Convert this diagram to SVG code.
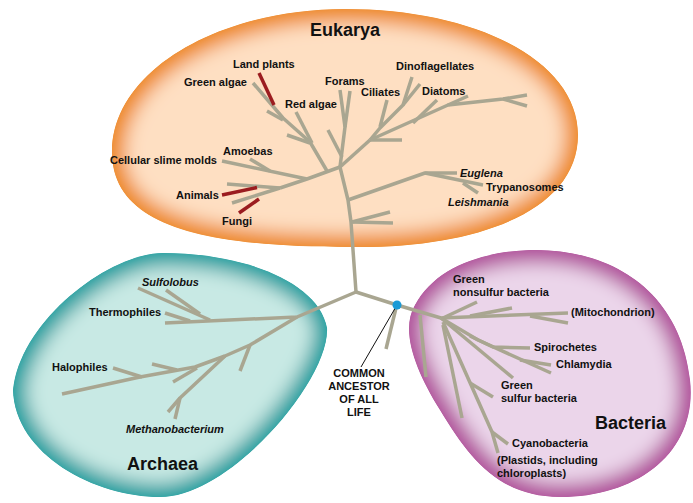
<svg xmlns="http://www.w3.org/2000/svg" width="693" height="503" viewBox="0 0 693 503">
<defs>
<path id="pE" d="M345,9 C475,9 578,60 578,135 C578,210 480,247 360,247 C200,248 112,225 112,152 C112,70 220,9 345,9 Z"/>
<path id="pA" d="M163,253 C240,253 318,280 327,328 C330,380 230,497 160,497 C95,497 15,455 13,390 C20,320 110,253 163,253 Z"/>
<path id="pB" d="M530,250 C610,248 680,290 690,380 C698,450 640,497 560,497 C500,497 470,460 440,410 C415,370 400,330 415,305 C435,268 480,252 530,250 Z"/>
<clipPath id="cE"><use href="#pE"/></clipPath>
<clipPath id="cA"><use href="#pA"/></clipPath>
<clipPath id="cB"><use href="#pB"/></clipPath>
<filter id="glow" x="-20%" y="-20%" width="140%" height="140%"><feGaussianBlur stdDeviation="9"/></filter>
<style>
.br{fill:none;stroke:#a9a691;stroke-width:3.5;stroke-linecap:butt;stroke-linejoin:round}
.rd{fill:none;stroke:#9b1c1f;stroke-width:3.5}
.t{font-family:"Liberation Sans",Arial,sans-serif;font-size:11px;font-weight:bold;fill:#111}
.i{font-style:italic}
.h{font-family:"Liberation Sans",Arial,sans-serif;font-size:18px;font-weight:bold;fill:#111}
</style>
</defs>

<g id="eukarya-domain" clip-path="url(#cE)">
<use href="#pE" fill="#ee8a1e"/>
<use href="#pE" fill="#fedfc2" stroke="#ee8a1e" stroke-width="26" filter="url(#glow)"/>
</g>
<g id="archaea-domain" clip-path="url(#cA)">
<use href="#pA" fill="#12a0a1"/>
<use href="#pA" fill="#c8e9e4" stroke="#12a0a1" stroke-width="26" filter="url(#glow)"/>
</g>
<g id="bacteria-domain" clip-path="url(#cB)">
<use href="#pB" fill="#b14f9b"/>
<use href="#pB" fill="#ebd5ea" stroke="#b14f9b" stroke-width="26" filter="url(#glow)"/>
</g>

<g id="connectors">
<polyline class="br" points="356,292 353,250 351,222 348,200 340,167"/>
<polyline class="br" points="340,167 307,179 280,188"/>
<line class="br" x1="280" y1="188" x2="227" y2="184"/>
<line class="br" x1="280" y1="188" x2="232" y2="203"/>
<line class="br" x1="307" y1="179" x2="222" y2="161"/>
<line class="br" x1="250" y1="159" x2="270" y2="171"/>
<polyline class="br" points="327,171 310,142 283,118 253,83"/>
<line class="br" x1="312" y1="143" x2="296" y2="112"/>
<line class="br" x1="310" y1="143" x2="287" y2="135"/>
<line class="br" x1="283" y1="120" x2="267" y2="111"/>
<polyline class="br" points="340,167 345,127 340,90"/>
<line class="br" x1="345" y1="127" x2="350" y2="91"/>
<line class="br" x1="328" y1="130" x2="342" y2="157"/>
<line class="br" x1="340" y1="167" x2="370" y2="140"/>
<line class="br" x1="370" y1="140" x2="402" y2="140"/>
<polyline class="br" points="370,140 380,128 403,105 412,77"/>
<line class="br" x1="403" y1="105" x2="420" y2="84"/>
<line class="br" x1="387" y1="100" x2="380" y2="127"/>
<polyline class="br" points="370,140 448,105 503,99 527,95"/>
<line class="br" x1="503" y1="99" x2="527" y2="106"/>
<line class="br" x1="448" y1="105" x2="468" y2="96"/>
<line class="br" x1="413" y1="123" x2="437" y2="100"/>
<polyline class="br" points="348,200 425,173 457,173"/>
<line class="br" x1="425" y1="173" x2="483" y2="185"/>
<line class="br" x1="463" y1="183" x2="478" y2="193"/>
<line class="br" x1="352" y1="222" x2="390" y2="212"/>
<line class="br" x1="352" y1="222" x2="393" y2="223"/>
<line class="rd" x1="259" y1="73" x2="274" y2="105"/>
<line class="rd" x1="222" y1="195" x2="257" y2="187.5"/>
<line class="rd" x1="239" y1="213" x2="259" y2="199"/>
<polyline class="br" points="356,292 297,317 165,323"/>
<line class="br" x1="138" y1="288" x2="210" y2="320"/>
<line class="br" x1="166" y1="290" x2="200" y2="314"/>
<line class="br" x1="165" y1="313" x2="190" y2="321"/>
<polyline class="br" points="297,317 250,345 225,356 195,367 140,377 62,394"/>
<line class="br" x1="250" y1="345" x2="240" y2="371"/>
<polyline class="br" points="225,356 180,398 168,412"/>
<line class="br" x1="180" y1="398" x2="175" y2="419"/>
<line class="br" x1="152" y1="364" x2="177" y2="370"/>
<line class="br" x1="173" y1="382" x2="197" y2="368"/>
<line class="br" x1="113" y1="368" x2="142" y2="377"/>
<polyline class="br" points="356,292 397,305 441,318"/>
<line class="br" x1="396" y1="308" x2="386" y2="349"/>
<line class="br" x1="420" y1="315" x2="426" y2="377"/>
<line class="br" x1="441" y1="318" x2="568" y2="313"/>
<line class="br" x1="530" y1="316" x2="568" y2="323"/>
<line class="br" x1="470" y1="316" x2="512" y2="308"/>
<line class="br" x1="443" y1="318" x2="477" y2="302"/>
<polyline class="br" points="441,318 478,340 551,373"/>
<polyline class="br" points="470,336 493,347 530,348"/>
<line class="br" x1="520" y1="360" x2="551" y2="365"/>
<line class="br" x1="441" y1="318" x2="513" y2="378"/>
<line class="br" x1="443" y1="325" x2="462" y2="418"/>
<polyline class="br" points="443,322 492,432 498,453"/>
<line class="br" x1="492" y1="432" x2="508" y2="444"/>
<line class="br" x1="470" y1="383" x2="493" y2="397"/>
<line x1="397" y1="305" x2="361" y2="367" stroke="#111" stroke-width="1"/>
<circle cx="397" cy="305" r="4.5" fill="#1a9ad6"/>
</g>

<g id="labels">
<text class="h" x="310" y="36">Eukarya</text>
<text class="h" x="127" y="470">Archaea</text>
<text class="h" x="595" y="429">Bacteria</text>
<text class="t" x="233" y="68">Land plants</text>
<text class="t" x="184" y="86">Green algae</text>
<text class="t" x="285" y="108">Red algae</text>
<text class="t" x="325" y="85">Forams</text>
<text class="t" x="361" y="96">Ciliates</text>
<text class="t" x="396" y="70">Dinoflagellates</text>
<text class="t" x="422" y="95">Diatoms</text>
<text class="t" x="223" y="155">Amoebas</text>
<text class="t" x="110" y="164">Cellular slime molds</text>
<text class="t" x="176" y="199">Animals</text>
<text class="t" x="222" y="225">Fungi</text>
<text class="t i" x="460" y="177">Euglena</text>
<text class="t" x="486" y="191">Trypanosomes</text>
<text class="t i" x="448" y="206">Leishmania</text>
<text class="t i" x="142" y="286">Sulfolobus</text>
<text class="t" x="89" y="316">Thermophiles</text>
<text class="t" x="52" y="371">Halophiles</text>
<text class="t i" x="126" y="433">Methanobacterium</text>
<text class="t" text-anchor="middle" x="359" y="377">COMMON</text>
<text class="t" text-anchor="middle" x="359" y="390">ANCESTOR</text>
<text class="t" text-anchor="middle" x="359" y="403">OF ALL</text>
<text class="t" text-anchor="middle" x="359" y="416">LIFE</text>
<text class="t" x="453" y="283">Green</text>
<text class="t" x="453" y="296">nonsulfur bacteria</text>
<text class="t" x="571" y="316">(Mitochondrion)</text>
<text class="t" x="534" y="351">Spirochetes</text>
<text class="t" x="556" y="368">Chlamydia</text>
<text class="t" x="501" y="389">Green</text>
<text class="t" x="501" y="402">sulfur bacteria</text>
<text class="t" x="512" y="447">Cyanobacteria</text>
<text class="t" x="497" y="464">(Plastids, including</text>
<text class="t" x="497" y="477">chloroplasts)</text>
</g>
</svg>
